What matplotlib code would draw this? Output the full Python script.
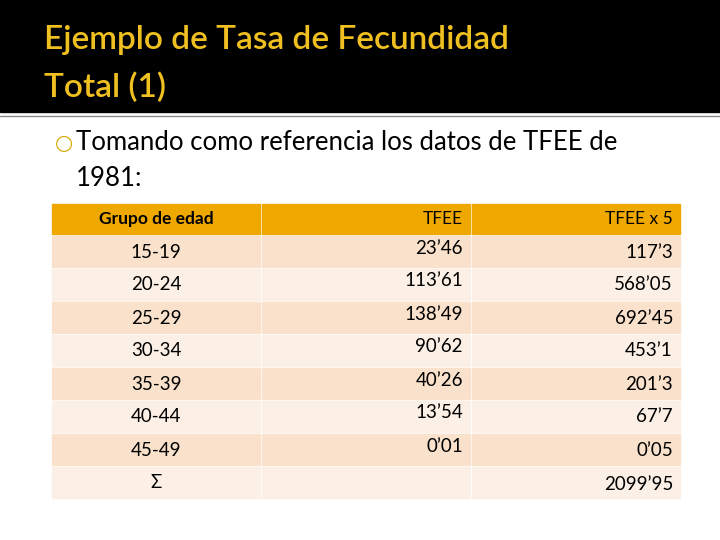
import matplotlib
matplotlib.use("Agg")
import matplotlib.pyplot as plt
from matplotlib.patches import Rectangle

title_lines = ["Ejemplo de Tasa de Fecundidad", "Total (1)"]
bullet_lines = ["Tomando como referencia los datos de TFEE de", "1981:"]
headers = ["Grupo de edad", "TFEE", "TFEE x 5"]
groups = ["15-19", "20-24", "25-29", "30-34", "35-39", "40-44", "45-49", "Σ"]
tfee = ["23’46", "113’61", "138’49", "90’62", "40’26", "13’54", "0’01", ""]
tfee5 = ["117’3", "568’05", "692’45", "453’1", "201’3", "67’7", "0’05", "2099’95"]

plt.rcParams['font.family'] = ['Lato', 'DejaVu Sans']
fig = plt.figure(figsize=(7.2, 5.4), dpi=100)
ax = fig.add_axes([0, 0, 1, 1])
ax.set_xlim(0, 720); ax.set_ylim(540, 0); ax.axis('off')

ax.add_patch(Rectangle((0, 0), 720, 112, color='black'))
ax.plot([0, 720], [116, 116], color='#888888', lw=1)
ax.text(44, 40, title_lines[0], color='#F0C020', fontsize=24, fontweight='semibold', va='center')
ax.text(44, 88, title_lines[1], color='#F0C020', fontsize=24, fontweight='semibold', va='center')

ax.text(55, 143, "○", color='#D8A800', fontsize=15, va='center', family='DejaVu Sans')
ax.text(76, 143, bullet_lines[0], color='black', fontsize=18.5, va='center')
ax.text(76, 178, bullet_lines[1], color='black', fontsize=18.5, va='center')

cols = [(52, 260), (262, 470), (472, 680)]
ax_h0, hh = 204, 30
for (x0, x1), h in zip(cols, headers):
    ax.add_patch(Rectangle((x0, ax_h0), x1 - x0, hh, color='#EFA800'))
ax.text(156, 219, headers[0], fontsize=12.5, fontweight='bold', ha='center', va='center')
ax.text(463, 219, headers[1], fontsize=12.5, ha='right', va='center')
ax.text(673, 219, headers[2], fontsize=12.5, ha='right', va='center')

y = 236
for i in range(len(groups)):
    c = '#F9E1CB' if i % 2 == 0 else '#FCF0E6'
    for x0, x1 in cols:
        ax.add_patch(Rectangle((x0, y), x1 - x0, 31, color=c))
    yc = y + 16
    ax.text(156, yc, groups[i], fontsize=13.5, ha='center', va='center')
    ax.text(463, yc - 4, tfee[i], fontsize=13.5, ha='right', va='center')
    ax.text(673, yc + 2 if i == 7 else yc, tfee5[i], fontsize=13.5, ha='right', va='center')
    y += 33

fig.savefig("out.png", dpi=100)
